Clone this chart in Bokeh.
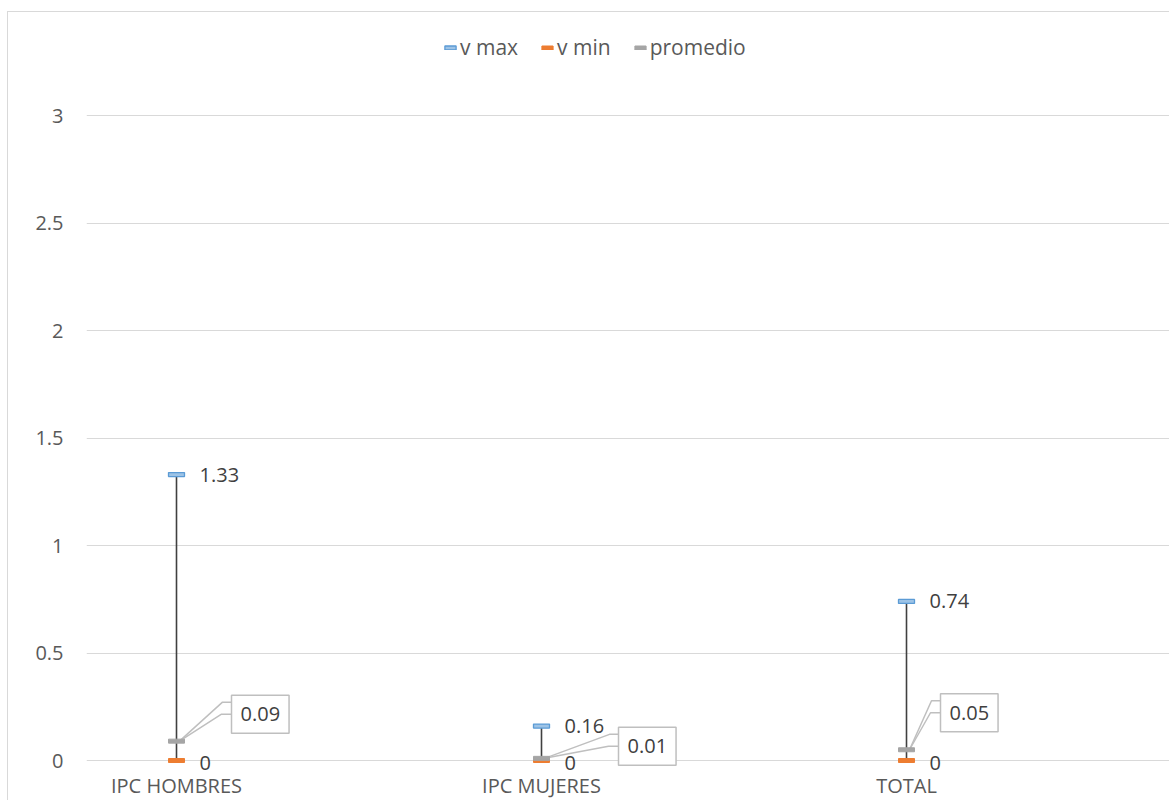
from bokeh.plotting import figure
from bokeh.models import Range1d, FixedTicker, Label, Legend, LegendItem, NumeralTickFormatter
from bokeh.embed import file_html
from bokeh.resources import INLINE

categories = ["IPC HOMBRES", "IPC MUJERES", "TOTAL"]
v_max = [1.33, 0.16, 0.74]
v_min = [0, 0, 0]
promedio = [0.09, 0.01, 0.05]
y_ticks = [0, 0.5, 1, 1.5, 2, 2.5, 3]

# callout placement for the "promedio" labels (screen px): box left from point, box centre above point
callout_dx = [55, 77, 34]
callout_dy = [27, 12, 37]

W, H = 1162, 789
LEFT, TOP, BOTTOM = 78, 18, 26
FW = W - LEFT
FH = H - TOP - BOTTOM
PX, PY = 365.0, 215.0
xs0 = -90 / PX
ys0 = -15 / PY

FONT = "Open Sans"
TXT = "#595959"
LBL = "#404040"

p = figure(width=W, height=H, output_backend="svg", toolbar_location=None,
           x_range=Range1d(xs0, xs0 + FW / PX), y_range=Range1d(ys0, ys0 + FH / PY),
           min_border_left=LEFT, min_border_right=0, min_border_top=TOP, min_border_bottom=BOTTOM)
p.styles = {"margin-left": "7px", "margin-top": "11px",
            "border-left": "1px solid #d9d9d9", "border-top": "1px solid #d9d9d9"}
p.outline_line_color = None
p.background_fill_color = "white"
p.border_fill_color = "white"

x = list(range(len(categories)))

# axes
p.xaxis.ticker = FixedTicker(ticks=x)
p.xaxis.major_label_overrides = {i: c for i, c in zip(x, categories)}
p.yaxis.ticker = FixedTicker(ticks=y_ticks)
p.yaxis.formatter = NumeralTickFormatter(format="0.[0]")
for ax in (p.xaxis, p.yaxis):
    ax.axis_line_color = None
    ax.major_tick_line_color = None
    ax.minor_tick_line_color = None
    ax.major_tick_out = 0
    ax.major_tick_in = 0
    ax.major_label_text_font = FONT
    ax.major_label_text_font_size = "20px"
    ax.major_label_text_color = TXT
p.xaxis.major_label_standoff = -4
p.yaxis.major_label_standoff = 23
p.xgrid.visible = False
p.ygrid.ticker = FixedTicker(ticks=y_ticks)
p.ygrid.grid_line_color = "#d9d9d9"
p.ygrid.grid_line_width = 1

# high-low lines
p.segment(x0=x, y0=v_min, x1=x, y1=v_max, line_color="#404040", line_width=1.6)

# callout leader lines
lx, ly = [], []
for i, (v, dx, dy) in enumerate(zip(promedio, callout_dx, callout_dy)):
    lx.append([i + 3 / PX, i + (dx - 9) / PX, i + dx / PX])
    ly.append([v, v + (dy + 12) / PY, v + (dy + 12) / PY])
    lx.append([i + 3 / PX, i + (dx - 10) / PX, i + dx / PX])
    ly.append([v, v + dy / PY, v + dy / PY])
p.multi_line(xs=lx, ys=ly, line_color="#bfbfbf", line_width=1.5)

# markers
r_max = p.rect(x=x, y=v_max, width=16, height=4, width_units="screen", height_units="screen",
               fill_color="#9dc3e6", line_color="#5b9bd5", line_width=1.3)
r_min = p.rect(x=x, y=v_min, width=16, height=4, width_units="screen", height_units="screen",
               fill_color="#ed7d31", line_color="#ed7d31", line_width=1)
r_avg = p.rect(x=x, y=promedio, width=16, height=4, width_units="screen", height_units="screen",
               fill_color="#a5a5a5", line_color="#a5a5a5", line_width=1)

# labels
for i, v in enumerate(v_max):
    p.add_layout(Label(x=i, y=v, text=f"{v:g}", x_offset=23, y_offset=0,
                       text_baseline="middle", text_align="left", text_font=FONT,
                       text_font_size="20px", text_color=LBL))
for i, v in enumerate(v_min):
    p.add_layout(Label(x=i, y=v, text=f"{v:g}", x_offset=23, y_offset=-2,
                       text_baseline="middle", text_align="left", text_font=FONT,
                       text_font_size="20px", text_color=LBL))
for i, (v, dx, dy) in enumerate(zip(promedio, callout_dx, callout_dy)):
    p.add_layout(Label(x=i, y=v, text=f"{v:g}", x_offset=dx, y_offset=dy,
                       text_baseline="middle", text_align="left", text_font=FONT,
                       text_font_size="20px", text_color=LBL,
                       border_line_color="#bfbfbf", border_line_width=1.5,
                       background_fill_color="white", padding=(9, 12)))

legend = Legend(items=[LegendItem(label="v max", renderers=[r_max]),
                       LegendItem(label="v min", renderers=[r_min]),
                       LegendItem(label="promedio", renderers=[r_avg])],
                orientation="horizontal", location=(357, 714),
                glyph_width=14, glyph_height=5, label_standoff=3, spacing=22,
                label_text_font=FONT, label_text_font_size="21px", label_text_color=TXT,
                background_fill_alpha=0, border_line_color=None, padding=0, margin=0)
p.add_layout(legend)

open("out.html", "w").write(file_html(p, INLINE))
